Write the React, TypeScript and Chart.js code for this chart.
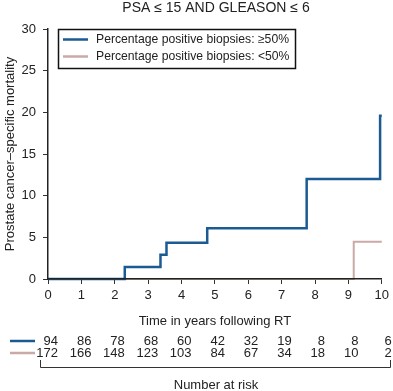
import React, { useEffect, useRef } from "react";
import { Chart, registerables } from "chart.js";

Chart.register(...registerables);

const titleText = "PSA \u2264 15 AND GLEASON \u2264 6";
const yTitle = "Prostate cancer\u2013specific mortality";
const xTitle = "Time in years following RT";
const riskTitle = "Number at risk";

const labelHigh = "Percentage positive biopsies: \u226550%";
const labelLow = "Percentage positive biopsies: <50%";

// step points (time, cumulative mortality %)
const highTimes = [0, 2.3, 3.37, 3.55, 4.77, 7.75, 9.95, 10];
const highValues = [0, 1.44, 2.9, 4.35, 6.1, 12.0, 19.6, 19.6];
const lowTimes = [0, 9.16, 10];
const lowValues = [0, 4.48, 4.48];

const riskTimes = [0, 1, 2, 3, 4, 5, 6, 7, 8, 9, 10];
const riskHigh = [94, 86, 78, 68, 60, 42, 32, 19, 8, 8, 6];
const riskLow = [172, 166, 148, 123, 103, 84, 67, 34, 18, 10, 2];

const BLUE = "#1b5a93";
const PINK = "#c9aaa6";
const FONT = "'Liberation Sans', Arial, sans-serif";

export default function App() {
  const ref = useRef<HTMLCanvasElement | null>(null);
  useEffect(() => {
    document.body.style.margin = "0";
    const canvas = ref.current!;
    const overlay = {
      id: "overlay",
      afterDraw(chart: any) {
        const ctx = chart.ctx;
        const xs = chart.scales.x;
        ctx.save();
        ctx.fillStyle = "#222";
        ctx.textBaseline = "middle";
        ctx.textAlign = "center";
        ctx.font = `14px ${FONT}`;
        ctx.fillText(titleText, 216, 8);

        // legend box
        ctx.font = `12.2px ${FONT}`;
        ctx.strokeStyle = "#111";
        ctx.lineWidth = 1.5;
        ctx.strokeRect(58.5, 29.5, 237, 39);
        const items = [
          { label: labelHigh, color: BLUE, y: 39.5 },
          { label: labelLow, color: PINK, y: 56.5 },
        ];
        items.forEach((it) => {
          ctx.strokeStyle = it.color;
          ctx.lineWidth = 2.5;
          ctx.beginPath();
          ctx.moveTo(63, it.y);
          ctx.lineTo(88, it.y);
          ctx.stroke();
          ctx.fillStyle = "#222";
          ctx.textAlign = "left";
          ctx.fillText(it.label, 96, it.y);
        });

        // number at risk
        ctx.font = `13px ${FONT}`;
        const rows = [
          { vals: riskHigh, color: BLUE, y: 341 },
          { vals: riskLow, color: PINK, y: 353 },
        ];
        rows.forEach((r) => {
          ctx.strokeStyle = r.color;
          ctx.lineWidth = 2.5;
          ctx.beginPath();
          ctx.moveTo(10, r.y);
          ctx.lineTo(35, r.y);
          ctx.stroke();
          ctx.fillStyle = "#222";
          ctx.textAlign = "right";
          r.vals.forEach((v, i) => {
            ctx.fillText(String(v), xs.getPixelForValue(riskTimes[i]) + 10, r.y);
          });
        });
        // bracket
        ctx.strokeStyle = "#333";
        ctx.lineWidth = 1;
        ctx.beginPath();
        ctx.moveTo(40.5, 360);
        ctx.lineTo(40.5, 367.5);
        ctx.lineTo(390.5, 367.5);
        ctx.lineTo(390.5, 360);
        ctx.stroke();
        ctx.textAlign = "center";
        ctx.fillText(riskTitle, 216, 385);
        ctx.restore();
      },
    };

    const chart = new Chart(canvas, {
      type: "line",
      data: {
        datasets: [
          {
            label: labelHigh,
            data: highTimes.map((t, i) => ({ x: t, y: highValues[i] })),
            borderColor: BLUE,
            borderWidth: 2.5,
            stepped: "before",
            pointRadius: 0,
            fill: false,
            clip: 6,
          },
          {
            label: labelLow,
            data: lowTimes.map((t, i) => ({ x: t, y: lowValues[i] })),
            borderColor: PINK,
            borderWidth: 2,
            stepped: "before",
            pointRadius: 0,
            fill: false,
            clip: 6,
          },
        ],
      },
      options: {
        responsive: false,
        animation: false,
        layout: { padding: { left: 0, top: 29, right: 11, bottom: 62 } },
        plugins: {
          legend: { display: false },
          tooltip: { enabled: false },
          title: { display: false },
        },
        scales: {
          x: {
            type: "linear",
            min: 0,
            max: 10,
            ticks: { stepSize: 1, color: "#222", font: { family: FONT, size: 13 }, padding: 4 },
            grid: { drawOnChartArea: false, drawTicks: true, tickLength: 5, color: "#333", lineWidth: 1 },
            border: { color: "#222", width: 1.5, z: 1 },
            title: { display: true, text: xTitle, color: "#222", font: { family: FONT, size: 13 }, padding: { top: 5, bottom: 0 } },
            afterFit(scale: any) {
              scale.height = 50;
            },
          },
          y: {
            min: 0,
            max: 30,
            ticks: { stepSize: 5, color: "#222", font: { family: FONT, size: 13 }, padding: 7 },
            grid: { drawOnChartArea: false, drawTicks: true, tickLength: 5, color: "#333", lineWidth: 1 },
            border: { color: "#222", width: 1.5, z: 1 },
            title: { display: true, text: yTitle, color: "#222", font: { family: FONT, size: 13 }, padding: { top: 3, bottom: 0 } },
            afterFit(scale: any) {
              scale.width = 48;
            },
          },
        },
      },
      plugins: [overlay],
    });
    return () => chart.destroy();
  }, []);
  return <canvas ref={ref} width={393} height={391} style={{ display: "block" }} />;
}
